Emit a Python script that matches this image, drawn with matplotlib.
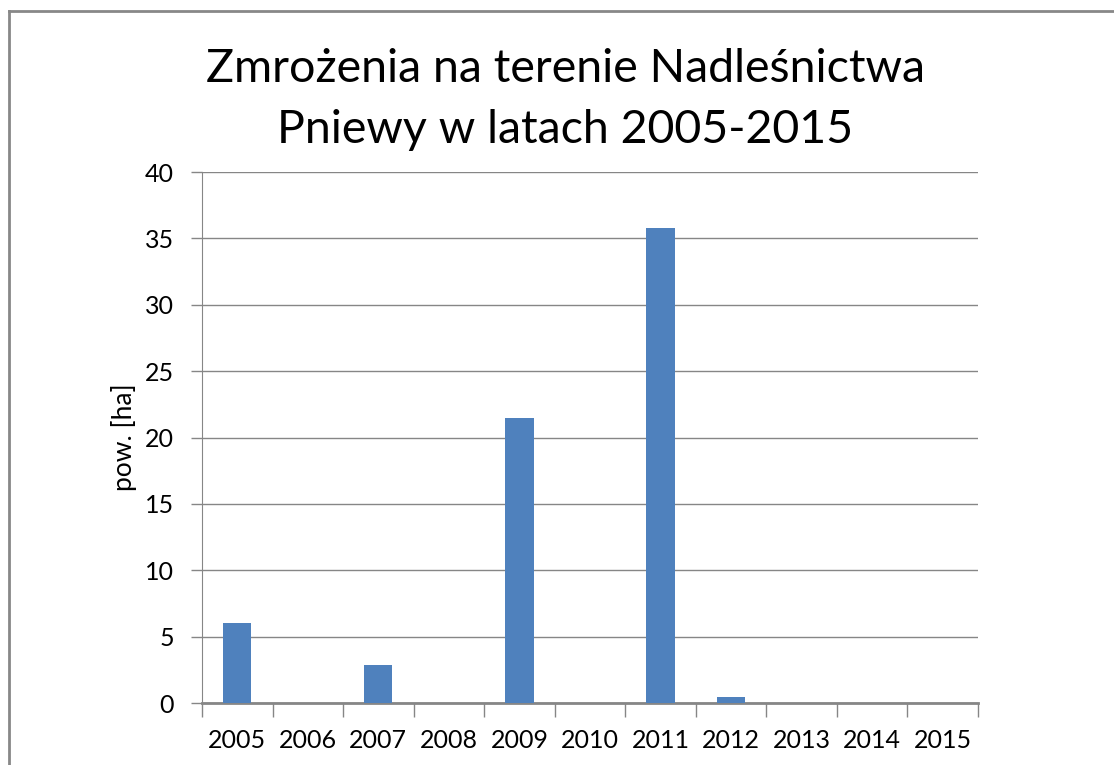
import numpy as np
import matplotlib
matplotlib.use('Agg')
import matplotlib.pyplot as plt
from matplotlib.lines import Line2D
from matplotlib.ticker import FixedLocator

# data
years = ['2005', '2006', '2007', '2008', '2009', '2010', '2011', '2012', '2013', '2014', '2015']
area_ha = [6.0, 0, 2.9, 0, 21.5, 0, 35.8, 0.45, 0, 0, 0]
yticks = [0, 5, 10, 15, 20, 25, 30, 35, 40]
title_lines = ['Zmrożenia na terenie Nadleśnictwa', 'Pniewy w latach 2005-2015']

plt.rcParams['font.family'] = ['Lato', 'DejaVu Sans']

fig = plt.figure(figsize=(11.14, 7.65), dpi=100)
ax = fig.add_axes([0.1813, 0.0810, 0.6966, 0.6941])

x = np.arange(len(years))
ax.bar(x, area_ha, width=0.4, color='#4F81BD', zorder=3)

ax.set_xlim(-0.5, len(years) - 0.5)
ax.set_ylim(0, 40)
ax.set_yticks(yticks)
ax.yaxis.grid(True, color='#868686', linewidth=1, zorder=0)

ax.set_xticks(x)
ax.set_xticklabels(years)
ax.xaxis.set_minor_locator(FixedLocator(np.arange(-0.5, len(years), 1)))
ax.tick_params(axis='x', which='major', length=0, pad=19, labelsize=18)
ax.tick_params(axis='x', which='minor', length=10, width=1, color='#868686', direction='out')
ax.tick_params(axis='y', length=8, width=1, color='#868686', pad=12, labelsize=18)

for s in ['top', 'right']:
    ax.spines[s].set_visible(False)
ax.spines['left'].set_color('#868686')
ax.spines['bottom'].set_color('#868686')
ax.spines['bottom'].set_linewidth(2)

ax.set_ylabel('pow. [ha]', fontsize=19, labelpad=6)

# two-line title, baselines placed separately
fig.text(0.5076, 1 - 82 / 765, title_lines[0], ha='center', va='baseline', fontsize=33.5)
fig.text(0.5076, 1 - 143 / 765, title_lines[1], ha='center', va='baseline', fontsize=33.5)

# outer chart frame (only left and top visible in the crop)
fig.add_artist(Line2D([9 / 1114, 9 / 1114], [0, 1 - 11 / 765], color='#888888', linewidth=2))
fig.add_artist(Line2D([9 / 1114, 1], [1 - 11 / 765, 1 - 11 / 765], color='#888888', linewidth=2))

fig.savefig('out.png', dpi=100)
